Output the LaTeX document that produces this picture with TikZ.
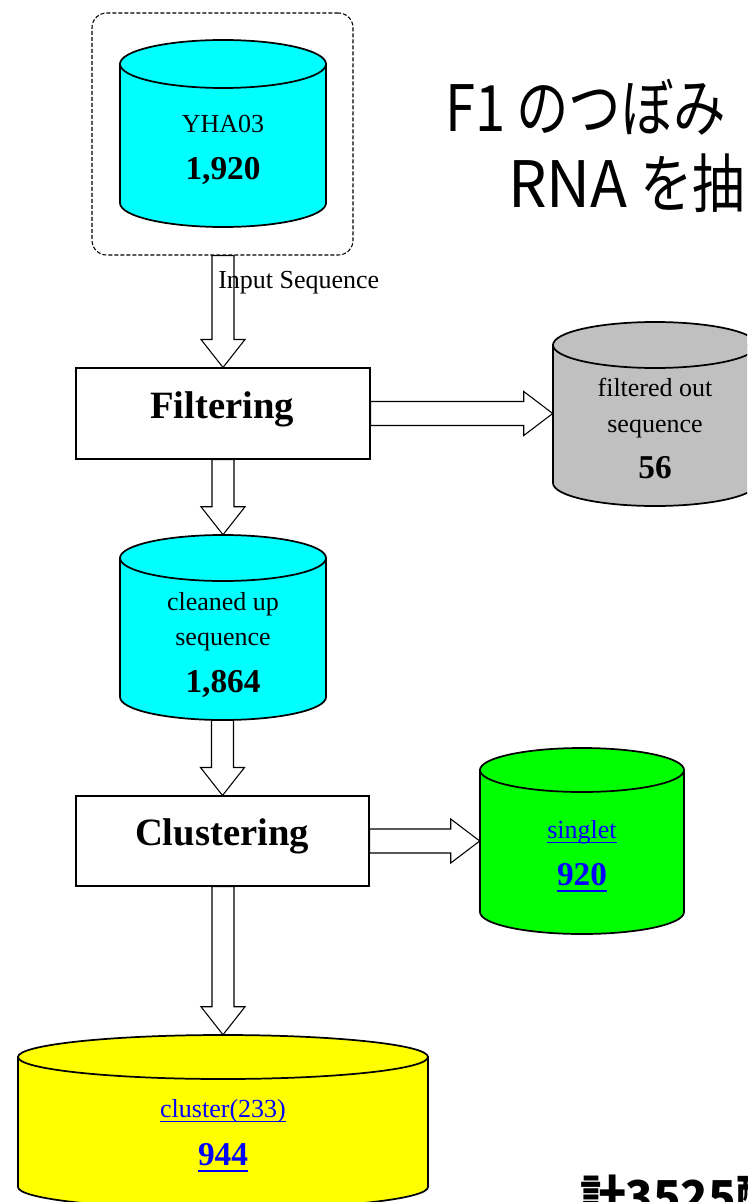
\documentclass[tikz,border=0pt]{standalone}
\usepackage{fontspec}
\setmainfont{Liberation Serif}
\newfontfamily\jpfont{Noto Sans CJK JP}
\usetikzlibrary{calc,fit}

\definecolor{dbcyan}{RGB}{0,255,255}
\definecolor{dbgrey}{RGB}{192,192,192}
\definecolor{dbgreen}{RGB}{0,255,0}
\definecolor{dbyellow}{RGB}{255,255,0}
\definecolor{linkblue}{RGB}{0,0,255}

% underline placed just below the baseline
\newcommand\linkline[1]{{\setbox0\hbox{#1}\rlap{\rule[-0.21em]{\wd0}{0.06em}}\box0}}

% database cylinder: name, fill, centre x, half width, top y, bottom y, rim radius
\newcommand\dbstore[7]{%
  \filldraw[cylline, fill=#2] (#3-#4,#5) -- (#3-#4,#6)
    arc[start angle=180, end angle=0, x radius=#4, y radius=#7] -- (#3+#4,#5) -- cycle;
  \filldraw[cylline, fill=#2] (#3,#5) ellipse[x radius=#4, y radius=#7];
  \node[fit={(#3-#4,#5-#7) (#3+#4,#6+#7)}, inner sep=0pt] (#1) {};
}

% hollow block arrows: start point, tip point (the shaft is kept straight)
\newcommand\hollowdown[2]{%
  \draw[blockarrow] ($(#2 |- #1)+(-11,0)$) -- ($(#2)+(-11,-28)$) -- ($(#2)+(-22,-28)$)
    -- (#2) -- ($(#2)+(22,-28)$) -- ($(#2)+(11,-28)$) -- ($(#2 |- #1)+(11,0)$) -- cycle;
}
\newcommand\hollowright[2]{%
  \draw[blockarrow] ($(#1)+(0,-12)$) -- ($(#2)+(-29,-12)$) -- ($(#2)+(-29,-22)$)
    -- (#2) -- ($(#2)+(-29,22)$) -- ($(#2)+(-29,12)$) -- ($(#1)+(0,12)$) -- cycle;
}

\begin{document}
\begin{tikzpicture}[x=0.75pt, y=-0.75pt,
  cylline/.style={draw=black, line width=1.3pt},
  blockarrow/.style={draw=black, fill=white, line width=0.8pt},
  procbox/.style={draw=black, line width=0.8pt, inner sep=0pt},
  storebox/.style={draw=black, line width=0.8pt, dash pattern=on 3pt off 1.5pt,
    rounded corners=11pt, inner sep=0pt},
  lbl/.style={font=\fontsize{19.5}{22}\selectfont, inner sep=0pt, anchor=base},
  num/.style={font=\fontsize{25}{28}\selectfont\bfseries, inner sep=0pt, anchor=base},
  proclbl/.style={font=\fontsize{29}{32}\selectfont\bfseries, inner sep=0pt, anchor=base},
  title/.style={font=\jpfont\fontsize{48}{50}\selectfont, inner sep=0pt, anchor=base west},
  total/.style={font=\jpfont\fontsize{34}{36}\selectfont\bfseries, inner sep=0pt, anchor=base west}]
\useasboundingbox (0,0) rectangle (747,1202);
\clip (0,0) rectangle (747,1202);

% input data set
\node[storebox, fit={(92,13) (353,255)}] (inbox) {};
\dbstore{yha}{dbcyan}{223}{103}{64}{203}{24}
\node[lbl] (tyha) at (223,133) {YHA03};
\node[num] (nyha) at (223,180) {1,920};

% filtering step
\node[procbox, fit={(76,368) (370,459)}] (filter) {};
\node[proclbl] (tfilter) at (222,418) {Filtering};
\dbstore{outseq}{dbgrey}{655}{102}{345}{483}{23}
\node[lbl] (tout1) at (655,396) {filtered out};
\node[lbl] (tout2) at (655,432) {sequence};
\node[num] (nout) at (655,478) {56};

% cleaned sequences
\dbstore{clean}{dbcyan}{223}{103}{558}{697}{23}
\node[lbl] (tclean1) at (223,610) {cleaned up};
\node[lbl] (tclean2) at (223,645) {sequence};
\node[num] (nclean) at (223,692) {1,864};

% clustering step
\node[procbox, fit={(76,796) (369,886)}] (cluster) {};
\node[proclbl] (tcluster) at (222,845) {Clustering};
\dbstore{single}{dbgreen}{582}{102}{770}{912}{22}
\node[lbl, text=linkblue] (tsingle) at (582,838) {\linkline{singlet}};
\node[num, text=linkblue] (nsingle) at (582,885) {\linkline{920}};
\dbstore{clus}{dbyellow}{223}{205}{1057}{1187}{22}
\node[lbl, text=linkblue] (tclus) at (223,1117) {\linkline{cluster(233)}};
\node[num, text=linkblue] (nclus) at (223,1165) {\linkline{944}};

% flow arrows
\hollowdown{inbox.south}{filter.north}
\node[lbl, anchor=base west] (tinput) at (218,288) {Input Sequence};
\hollowright{filter.east}{outseq.west |- filter.east}
\hollowdown{filter.south}{clean.north}
\hollowdown{clean.south}{cluster.north}
\hollowright{cluster.east}{single.west |- cluster.east}
\hollowdown{cluster.south}{clus.north}

% heading and total
\node[title] (head1a) at (445,132) {\scalebox{0.85}[1]{F1}};
\node[title] (head1b) at (516,132) {\scalebox{0.82}[1]{のつぼみ}};
\node[title] (head2a) at (508,207) {\scalebox{0.95}[1]{RNA}};
\node[title] (head2b) at (640,207) {\scalebox{0.82}[1]{を抽}};
\node[total] (sum) at (580,1213) {計3525配};
\end{tikzpicture}
\end{document}
